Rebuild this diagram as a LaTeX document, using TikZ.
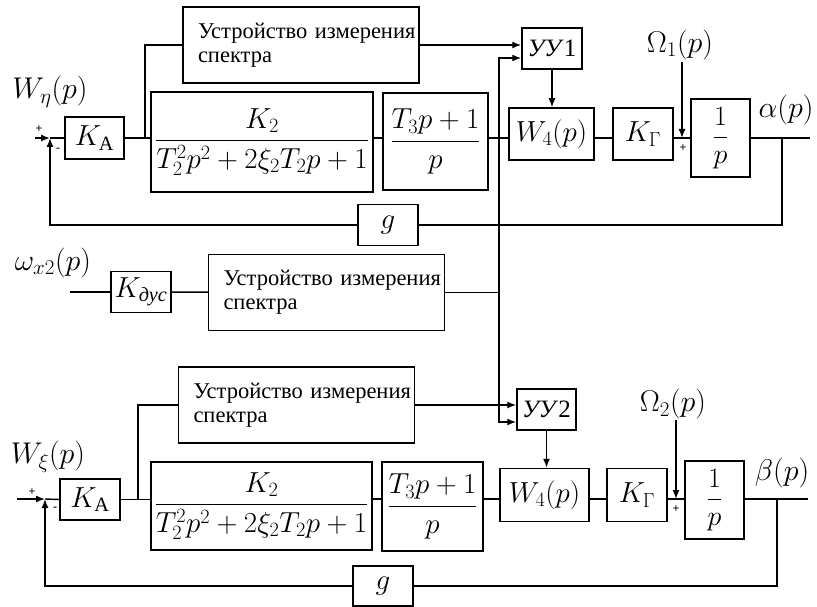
\RequirePackage{fix-cm}
\documentclass[tikz,border=0pt]{standalone}
\usepackage{amsmath}
\usepackage{fontspec}
\setmainfont{Liberation Serif}
\usetikzlibrary{arrows.meta,positioning}
\newcommand{\specttext}{\hspace*{15pt}\mbox{Устройство измерения}\\\hspace*{15pt}\mbox{спектра}}

\begin{document}
\begin{tikzpicture}[x=1pt, y=-1pt, >={Latex[length=9pt,width=7pt]},
  box/.style={draw, line width=1.5pt, inner sep=1pt, font=\fontsize{29}{32}\selectfont},
  spec/.style={draw, line width=1.5pt, align=left, text width=236, inner xsep=0,
    minimum height=76, font=\fontsize{22.5}{24}\selectfont},
  sign/.style={inner sep=0pt, font=\bfseries\fontsize{12}{12}\selectfont},
  lbl/.style={inner sep=0pt, font=\fontsize{30}{32}\selectfont},
  wire/.style={line width=1.4pt}
]
  \useasboundingbox (0,0) rectangle (817,607);

  \node[lbl] (Weta) at (50,92) {$W_{\eta}(p)$};
  \coordinate (in1) at (35,138);
  \coordinate (s1) at (50,138);
  \node[box, minimum width=59, minimum height=42] (KA1) at (94.5,138) {$K_{\mathrm{A}}$};
  \node[box, minimum width=222, minimum height=100] (F1) at (262,142)
    {$\displaystyle\frac{K_2}{T_2^2p^2+2\xi_2T_2p+1}$};
  \node[box, minimum width=105, minimum height=97] (G1) at (435.5,141.5)
    {$\displaystyle\frac{T_3p+1}{p}$};
  \node[spec] (S1) at (301,45) {\specttext};
  \node[box, minimum width=60, minimum height=41, font=\fontsize{25}{27}\selectfont] (U1)
    at (552,48.5) {\textit{УУ}1};
  \node[box, minimum width=85, minimum height=52] (W1) at (551.5,134) {$W_4(p)$};
  \node[box, minimum width=60, minimum height=52] (KG1) at (643,134) {$K_{\Gamma}$};
  \coordinate (p1) at (682,138);
  \node[box, minimum width=59, minimum height=78, font=\fontsize{28}{30}\selectfont] (I1)
    at (720.5,138) {$\displaystyle\frac{1}{p}$};
  \node[lbl] (Om1) at (680,45) {$\Omega_1(p)$};
  \coordinate (om1) at (682,62);
  \node[lbl] (al) at (786,110) {$\alpha(p)$};
  \coordinate (b1) at (782,138);
  \coordinate (o1) at (810,138);
  \coordinate (br1) at (145,138);
  \node[box, minimum width=60, minimum height=41] (g1) at (388,225) {$g$};
  \node[sign] (pl1) at (39,129) {+};
  \node[sign] (mn1) at (58,150) {-};
  \node[sign] (pl2) at (683,148) {+};

  \draw[wire,->] (in1) -- (s1);
  \draw[wire] (s1) -- (KA1.west);
  \draw[wire] (KA1.east) -- (KA1.east -| F1.west);
  \draw[wire] (br1) |- (S1.west);
  \draw[wire,->] (S1.east) -- (S1.east -| U1.west);
  \draw[wire] (F1.east |- s1) -- (G1.west |- s1);
  \draw[wire] (G1.east |- s1) -- (W1.west |- s1);
  \draw[wire] (W1.east |- s1) -- (KG1.west |- s1);
  \draw[wire] (KG1.east |- s1) -- (p1) -- (I1.west);
  \draw[wire] (I1.east) -- (o1);
  \draw[wire,->] (U1.south) -- (U1.south |- W1.north);
  \draw[wire,->] (om1) -- (p1);
  \draw[wire] (b1) |- (g1.east);
  \draw[wire,->] (g1.west) -| (s1);

  \node[lbl] (omx) at (53,263) {$\omega_{x2}(p)$};
  \coordinate (in3) at (70,292);
  \node[box, minimum width=60, minimum height=41] (Kd) at (141,292)
    {$K_{\text{\itshape дус}}$};
  \node[spec] (S2) at (326.5,292.5) {\specttext};
  \coordinate (bm) at (499,292.5);
  \coordinate (bt) at (499,58);
  \coordinate (bb) at (499,422);
  \draw[wire] (in3) -- (Kd);
  \draw[wire] (Kd) -- (S2);
  \draw[wire] (S2.east) -- (bm);

  \node[lbl] (Wxi) at (48,457) {$W_{\xi}(p)$};
  \coordinate (in2) at (17,499);
  \coordinate (s2) at (45,499);
  \node[box, minimum width=60, minimum height=41] (KA2) at (90,499.5) {$K_{\mathrm{A}}$};
  \node[box, minimum width=221, minimum height=88] (F2) at (261.5,506)
    {$\displaystyle\frac{K_2}{T_2^2p^2+2\xi_2T_2p+1}$};
  \node[box, minimum width=101, minimum height=89] (G2) at (432.5,506.5)
    {$\displaystyle\frac{T_3p+1}{p}$};
  \node[spec] (S3) at (296.5,405) {\specttext};
  \node[box, minimum width=59, minimum height=41, font=\fontsize{25}{27}\selectfont] (U2)
    at (546.5,409.5) {\textit{УУ}2};
  \node[box, minimum width=89, minimum height=53] (W2) at (544.5,495) {$W_4(p)$};
  \node[box, minimum width=60, minimum height=53] (KG2) at (637,495) {$K_{\Gamma}$};
  \coordinate (p2) at (676,499);
  \node[box, minimum width=59, minimum height=78, font=\fontsize{28}{30}\selectfont] (I2)
    at (714.5,500) {$\displaystyle\frac{1}{p}$};
  \node[lbl] (Om2) at (673,404) {$\Omega_2(p)$};
  \coordinate (om2) at (676,420);
  \node[lbl] (be) at (782,473) {$\beta(p)$};
  \coordinate (b2) at (777,499);
  \coordinate (o2) at (808,499);
  \coordinate (br2) at (138,499);
  \node[box, minimum width=60, minimum height=40] (g2) at (383,586) {$g$};
  \node[sign] (pl3) at (32,492) {+};
  \node[sign] (mn2) at (55,509) {-};
  \node[sign] (pl4) at (676,509) {+};

  \draw[wire,->] (in2) -- (s2);
  \draw[wire] (s2) -- (KA2.west);
  \draw[wire] (KA2.east) -- (KA2.east -| F2.west);
  \draw[wire] (br2) |- (S3.west);
  \draw[wire,->] (S3.east) -- (S3.east -| U2.west);
  \draw[wire] (F2.east |- s2) -- (G2.west |- s2);
  \draw[wire] (G2.east |- s2) -- (W2.west |- s2);
  \draw[wire] (W2.east |- s2) -- (KG2.west |- s2);
  \draw[wire] (KG2.east |- s2) -- (p2) -- (I2.west |- s2);
  \draw[wire] (I2.east |- s2) -- (o2);
  \draw[wire,->] (U2.south) -- (U2.south |- W2.north);
  \draw[wire,->] (om2) -- (p2);
  \draw[wire] (b2) |- (g2.east);
  \draw[wire,->] (g2.west) -| (s2);

  \draw[wire,<->] (bt -| U1.west) -- (bt) -- (bb) -- (bb -| U2.west);
\end{tikzpicture}
\end{document}
